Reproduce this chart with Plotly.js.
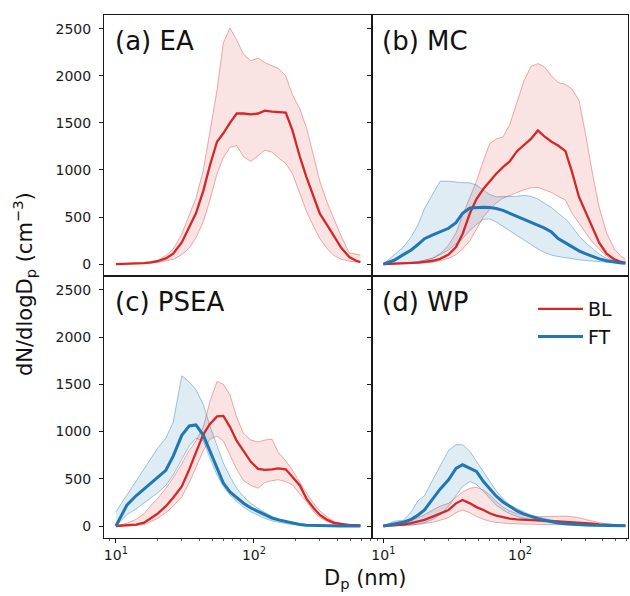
<!DOCTYPE html>
<html>
<head>
<meta charset="utf-8">
<script src="https://cdn.plot.ly/plotly-3.0.1.min.js"></script>
<style>html,body{margin:0;padding:0;background:#fff;}#chart{width:630px;height:596px;}</style>
</head>
<body>
<div id="chart"></div>
<script>
// Particle diameter (nm)
const dp = [10,12,14,16,18,20,23,26,30,34,38,43,48,54,60,67,75,84,95,107,120,135,150,170,190,215,240,270,300,340,380,430,490,550,590];

// (a) EA
const EA_BL_mean = [0,2,5,10,17,30,60,110,230,390,540,780,1050,1300,1390,1500,1600,1600,1590,1600,1630,1620,1615,1610,1420,1140,925,730,536,410,290,170,75,35,20];
const EA_BL_hi   = [0,3,8,15,25,40,90,160,320,520,700,1000,1400,1850,2350,2510,2380,2230,2160,2190,2140,2110,2080,2000,1800,1650,1450,1150,880,650,470,290,120,100,95];
const EA_BL_lo   = [0,1,3,6,10,15,30,50,100,170,280,450,680,960,1130,1240,1260,1140,1090,1150,1210,1190,1130,1070,960,750,560,400,270,160,90,50,30,25,22];

// (b) MC
const MC_BL_mean = [0,3,6,10,15,22,35,55,100,180,320,540,690,800,880,960,1030,1090,1200,1270,1330,1420,1360,1300,1260,1200,980,713,560,390,225,110,50,22,12];
const MC_BL_hi   = [0,5,10,18,28,40,65,110,200,330,520,700,880,1100,1280,1330,1350,1480,1720,1950,2100,2130,2100,2000,1930,1910,1860,1740,1400,950,600,330,160,80,50];
const MC_BL_lo   = [0,1,3,5,8,12,20,35,60,100,160,250,370,500,580,650,700,730,760,790,810,815,790,760,720,680,540,440,340,230,160,80,35,15,8];
const MC_FT_mean = [0,40,100,150,210,270,310,345,380,440,540,595,600,605,600,590,570,540,510,480,450,420,385,340,272,225,181,140,110,80,55,35,18,10,8];
const MC_FT_hi   = [0,100,180,290,420,590,750,880,880,870,865,863,840,785,740,714,714,714,720,730,720,690,650,600,540,480,400,300,230,160,105,60,35,25,20];
const MC_FT_lo   = [0,3,8,15,25,40,60,100,150,215,270,358,420,475,480,447,400,358,300,250,200,160,125,95,80,65,55,45,38,30,24,18,12,8,6];

// (c) PSEA
const PSEA_BL_mean = [0,5,15,35,85,130,210,300,420,600,780,970,1080,1160,1165,1050,900,790,680,605,595,600,610,600,520,430,290,190,117,65,33,18,10,8,6];
const PSEA_BL_hi   = [0,30,70,130,220,290,400,510,660,800,900,1050,1320,1530,1500,1390,1150,980,910,890,910,920,780,690,590,460,350,240,160,95,50,28,15,10,8];
const PSEA_BL_lo   = [0,2,6,15,50,80,140,210,310,460,620,800,920,950,900,760,600,480,430,400,460,480,490,470,436,340,259,150,90,45,22,12,6,4,3];
const PSEA_FT_mean = [0,220,320,390,455,510,590,740,960,1060,1070,960,790,610,455,360,300,241,190,152,115,85,65,45,30,15,8,5,3,2,1,0,0,0,0];
const PSEA_FT_hi   = [150,330,480,600,730,820,930,1100,1590,1525,1443,1287,1057,844,667,525,400,312,240,185,140,100,78,55,38,22,14,9,6,4,2,1,1,0,0];
const PSEA_FT_lo   = [0,120,180,240,300,350,430,540,700,850,930,900,720,540,420,330,260,200,150,110,80,55,40,25,15,8,5,3,2,1,0,0,0,0,0];

// (d) WP
const WP_BL_mean = [0,5,15,30,50,65,100,130,170,240,275,240,200,170,135,110,90,78,70,65,60,57,55,52,50,46,42,38,32,25,18,12,8,5,4];
const WP_BL_hi   = [0,8,25,55,90,120,170,210,240,300,360,400,410,380,330,260,200,160,130,115,105,100,100,102,105,105,98,88,70,50,35,22,12,8,6];
const WP_BL_lo   = [0,2,5,10,18,25,40,60,90,140,170,140,100,70,50,38,30,25,22,20,18,17,16,15,14,13,12,10,8,6,4,3,2,1,1];
const WP_FT_mean = [0,20,40,70,117,170,290,390,490,610,648,610,578,470,390,315,255,206,160,125,100,78,62,45,32,24,18,14,11,8,6,5,4,3,3];
const WP_FT_hi   = [0,50,60,150,270,320,490,640,800,860,860,790,684,570,470,370,290,223,185,145,115,95,80,62,50,40,33,27,22,17,13,10,7,5,4];
const WP_FT_lo   = [0,2,5,10,20,35,70,120,210,320,420,470,440,365,290,220,170,130,100,80,65,52,42,33,25,18,14,11,9,7,5,4,3,2,2];

const yTicks = [0,500,1000,1500,2000,2500];
const xTickVals = [10,100];
const xTickText = ['10<sup>1</sup>','10<sup>2</sup>'];
const xMinorVals = [9,20,30,40,50,60,70,80,90,200,300,400,500,600,700];
const panelLabels = ['(a) EA','(b) MC','(c) PSEA','(d) WP'];

const RED = '#d62728', BLUE = '#1f77b4';
const RED_EDGE = 'rgba(214,39,40,0.38)', RED_FILL = 'rgba(214,39,40,0.13)';
const BLUE_EDGE = 'rgba(31,119,180,0.42)', BLUE_FILL = 'rgba(31,119,180,0.14)';

const traces = [];
function band(lo, hi, edge, fill, ax) {
  traces.push({x: dp, y: lo, xaxis: 'x'+ax, yaxis: 'y'+ax, mode: 'lines', line: {color: edge, width: 1}, showlegend: false, hoverinfo: 'skip'});
  traces.push({x: dp, y: hi, xaxis: 'x'+ax, yaxis: 'y'+ax, mode: 'lines', line: {color: edge, width: 1}, fill: 'tonexty', fillcolor: fill, showlegend: false, hoverinfo: 'skip'});
}
function meanLine(y, color, width, ax, name, show) {
  traces.push({x: dp, y: y, xaxis: 'x'+ax, yaxis: 'y'+ax, mode: 'lines', line: {color: color, width: width}, name: name, showlegend: show});
}

const panels = [
  {ax: '',  bl: [EA_BL_lo, EA_BL_hi, EA_BL_mean], ft: null},
  {ax: '2', bl: [MC_BL_lo, MC_BL_hi, MC_BL_mean], ft: [MC_FT_lo, MC_FT_hi, MC_FT_mean]},
  {ax: '3', bl: [PSEA_BL_lo, PSEA_BL_hi, PSEA_BL_mean], ft: [PSEA_FT_lo, PSEA_FT_hi, PSEA_FT_mean]},
  {ax: '4', bl: [WP_BL_lo, WP_BL_hi, WP_BL_mean], ft: [WP_FT_lo, WP_FT_hi, WP_FT_mean]}
];
panels.forEach(p => {
  band(p.bl[0], p.bl[1], RED_EDGE, RED_FILL, p.ax);
  if (p.ft) band(p.ft[0], p.ft[1], BLUE_EDGE, BLUE_FILL, p.ax);
  meanLine(p.bl[2], RED, 2.3, p.ax, 'BL', p.ax === '4');
  if (p.ft) meanLine(p.ft[2], BLUE, 3, p.ax, 'FT', p.ax === '4');
});

const W = 630, H = 596;
const xL = [104/W, 372/W], xR = [372/W, 628/W];
const yT = [1-276/H, 1-15/H], yB = [1-538/H, 1-276/H];
const tickFont = {family: 'DejaVu Sans', size: 14, color: '#1a1a1a'};

function xaxis(dom, range, bottom, anchor) {
  const a = {domain: dom, anchor: anchor, type: 'log', range: range, showline: true, mirror: true, linecolor: '#1a1a1a', linewidth: 1,
    showgrid: false, zeroline: false, tickfont: tickFont, fixedrange: true};
  if (bottom) {
    Object.assign(a, {tickmode: 'array', tickvals: xTickVals, ticktext: xTickText, ticks: 'outside', ticklen: 4, tickwidth: 1, tickcolor: '#1a1a1a',
      minor: {tickmode: 'array', tickvals: xMinorVals, ticks: 'outside', ticklen: 2, tickwidth: 0.8, tickcolor: '#333', showgrid: false}});
  } else {
    Object.assign(a, {ticks: '', showticklabels: false});
  }
  return a;
}
function yaxis(dom, labels, anchor) {
  return {domain: dom, anchor: anchor, range: [-127, 2647], showline: true, mirror: true, linecolor: '#1a1a1a', linewidth: 1,
    showgrid: false, zeroline: false, tickmode: 'array', tickvals: yTicks, ticks: 'outside', ticklen: 4, tickwidth: 1, tickcolor: '#1a1a1a',
    showticklabels: labels, tickfont: tickFont, ticklabelstandoff: 5, fixedrange: true};
}

const labelPos = [[113, 41], [380, 41], [113, 302], [380, 302]];
const annotations = panelLabels.map((t, i) => ({
  text: t, xref: 'paper', yref: 'paper', x: labelPos[i][0]/W, y: 1 - labelPos[i][1]/H,
  xanchor: 'left', yanchor: 'middle', showarrow: false, font: {family: 'DejaVu Sans', size: 26, color: '#111'}
}));
annotations.push({text: 'dN/dlogD<sub>p</sub> (cm<sup>−3</sup>)', xref: 'paper', yref: 'paper', x: 24/W, y: 1 - 284/H,
  xanchor: 'center', yanchor: 'middle', textangle: -90, showarrow: false, font: {family: 'DejaVu Sans', size: 21, color: '#111'}});
annotations.push({text: 'D<sub>p</sub> (nm)', xref: 'paper', yref: 'paper', x: 365/W, y: 1 - 579/H,
  xanchor: 'center', yanchor: 'middle', showarrow: false, font: {family: 'DejaVu Sans', size: 21, color: '#111'}});

const layout = {
  width: W, height: H, margin: {l: 0, r: 0, t: 0, b: 0}, paper_bgcolor: '#fff', plot_bgcolor: '#fff',
  font: {family: 'DejaVu Sans', color: '#111'},
  xaxis: xaxis(xL, [Math.log10(8.2), Math.log10(716)], false, 'y'),
  yaxis: yaxis(yT, true, 'x'),
  xaxis2: xaxis(xR, [0.917, 2.79], false, 'y2'),
  yaxis2: yaxis(yT, false, 'x2'),
  xaxis3: xaxis(xL, [Math.log10(8.2), Math.log10(716)], true, 'y3'),
  yaxis3: yaxis(yB, true, 'x3'),
  xaxis4: xaxis(xR, [0.917, 2.79], true, 'y4'),
  yaxis4: yaxis(yB, false, 'x4'),
  showlegend: true,
  legend: {x: 533/W, y: 1 - 290/H, xanchor: 'left', yanchor: 'top', bgcolor: 'rgba(0,0,0,0)', borderwidth: 0, traceorder: 'normal',
    font: {family: 'DejaVu Sans', size: 19, color: '#111'}, itemwidth: 45, tracegroupgap: 0},
  annotations: annotations
};

Plotly.newPlot('chart', traces, layout, {displayModeBar: false, staticPlot: true});
</script>
</body>
</html>
